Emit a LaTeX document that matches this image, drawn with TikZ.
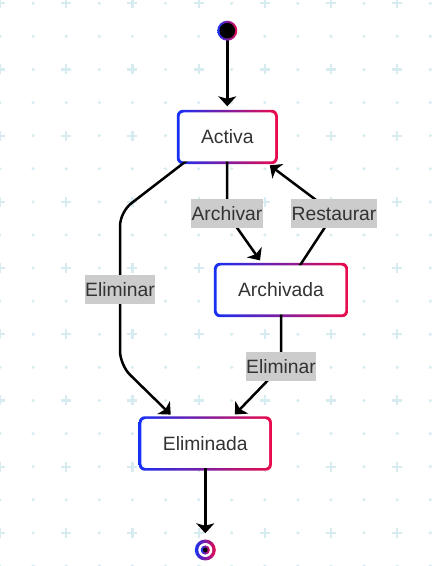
\documentclass[tikz,border=0pt]{standalone}
\usepackage{fontspec}
\setmainfont{Liberation Sans}
\usetikzlibrary{arrows.meta,positioning,calc}

\definecolor{gblue}{RGB}{22,48,245}
\definecolor{gred}{RGB}{235,10,75}
\definecolor{gridc}{RGB}{214,236,241}
\definecolor{txt}{RGB}{51,51,51}
\definecolor{lblgray}{RGB}{204,204,204}

\pgfdeclarelayer{grid}
\pgfdeclarelayer{background}
\pgfsetlayers{grid,background,main}

\tikzset{
  stbox/.style={rectangle, rounded corners=4pt, fill=white, inner xsep=21.5pt,
    minimum height=49pt, text=txt, font=\fontsize{19.3}{23}\selectfont},
  lbl/.style={fill=lblgray, inner xsep=0.5pt, inner ysep=0pt, minimum height=29pt,
    text=txt, font=\fontsize{19.3}{23}\selectfont},
  trans/.style={line width=2.5pt, -{Stealth[length=10pt,width=18pt,inset=2.5pt]},
    shorten >=6pt, shorten <=-2.5pt, rounded corners=14pt},
}

\begin{document}
\begin{tikzpicture}[x=1pt,y=1pt]
  \useasboundingbox (0,0) rectangle (432,566);

  % dotted grid
  \begin{pgfonlayer}{grid}
    \fill[white] (0,0) rectangle (432,566);
    \foreach \i in {0,...,13}
      \foreach \j in {0,...,17}{
        \pgfmathtruncatemacro\odd{mod(\i,2)+mod(\j,2)}
        \ifnum\odd=0
          \draw[gridc, line width=2.2pt] (33.1*\i-5,562.7-33.1*\j) -- ++(10,0)
            (33.1*\i,557.7-33.1*\j) -- ++(0,10);
        \else
          \fill[gridc] (33.1*\i,562.7-33.1*\j) circle (1.7pt);
        \fi
      }
  \end{pgfonlayer}

  % states
  \node[circle, minimum size=20pt, inner sep=0pt, left color=gblue, right color=gred,
    path picture={\fill[black] (path picture bounding box.center) circle (7.8pt);}]
    (ini) at (227.3,535.3) {};
  \node[stbox] (act) at (227.3,429) {Activa};
  \node[stbox] (arch) at (281,276) {Archivada};
  \node[stbox] (elim) at (205.3,122.5) {Eliminada};
  \node[circle, minimum size=21pt, inner sep=0pt, left color=gblue, right color=gred,
    path picture={
      \fill[white] (path picture bounding box.center) circle (7pt);
      \shade[left color=gblue, right color=gred] (path picture bounding box.center) circle (4.6pt);
      \fill[black] (path picture bounding box.center) circle (2.4pt);}]
    (fin) at (205.3,16) {};

  % labels
  \node[lbl] (lArch) at (227,352.5) {Archivar};
  \node[lbl] (lRest) at (334,352.5) {Restaurar};
  \node[lbl] (lElL) at (120,276.3) {Eliminar};
  \node[lbl] (lElR) at (281,199.3) {Eliminar};
  \coordinate (cUp) at (120,354);
  \coordinate (cDown) at (120,201);

  \begin{pgfonlayer}{background}
    % gradient borders
    \foreach \n in {act,arch,elim}
      \shade[left color=gblue, right color=gred, rounded corners=6pt]
        ([shift={(-2.5,-2.5)}]\n.south west) rectangle ([shift={(2.5,2.5)}]\n.north east);
    % transitions
    \draw[trans] (ini) -- (act);
    \draw[trans] (act) -- (lArch.center) -- ([xshift=-17.5pt]arch.north);
    \draw[trans] ([xshift=19pt]arch.north) -- (lRest.center) -- ([xshift=37.7pt]act.south);
    \draw[trans] ([xshift=6pt]act.south west) -- (cUp) -- (cDown) -- ([xshift=-30.3pt]elim.north);
    \draw[trans] (arch) -- (lElR.center) -- ([xshift=25.4pt]elim.north);
    \draw[trans] (elim) -- (fin);
  \end{pgfonlayer}
\end{tikzpicture}
\end{document}
